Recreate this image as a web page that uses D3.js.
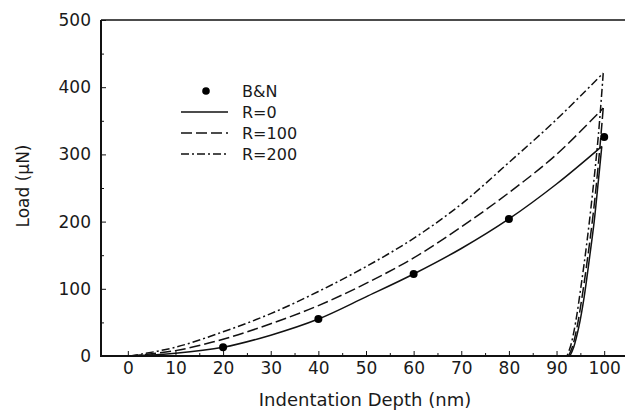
<!DOCTYPE html>
<html>
<head>
<meta charset="utf-8">
<script src="https://cdn.jsdelivr.net/npm/d3@7"></script>
<style>
  body { margin: 0; background: #fff; }
  text { font-family: "DejaVu Sans", sans-serif; fill: #1a1a1a; }
</style>
</head>
<body>
<div id="chart"></div>
<script>
// Load vs indentation depth, B&N points and three R curves

var bnDepth = [20, 40, 60, 80, 100];
var bnLoad = [13, 55, 122, 204, 326];

// loading + unloading branches, [depth, load]
var r0 = [[0.5, 0], [10, 4], [20, 13], [30, 31], [40, 55], [50, 88], [60, 122], [70, 160],
  [80, 204], [90, 256], [99.5, 312],
  [98.8, 262], [97.9, 200], [96.9, 145], [95.8, 88], [94.7, 44], [93.6, 13], [92.8, 0]];
var r100 = [[0.5, 0], [10, 8], [20, 25], [30, 48], [40, 75], [50, 108], [60, 146], [70, 192],
  [80, 243], [90, 300], [99.8, 369],
  [98.9, 295], [97.8, 218], [96.6, 150], [95.4, 90], [94.3, 43], [93.3, 13], [92.5, 0]];
var r200 = [[0.5, 0], [10, 13], [20, 36], [30, 63], [40, 96], [50, 133], [60, 175], [70, 226],
  [80, 288], [90, 352], [99.8, 421],
  [98.8, 330], [97.6, 245], [96.3, 165], [95.1, 102], [94.0, 50], [93.0, 16], [92.2, 0]];

var seriesNames = ["R=0", "R=100", "R=200"];
var xTicks = d3.range(0, 101, 10);
var yTicks = d3.range(0, 501, 100);

var svgWidth = 625, svgHeight = 411;

var x = d3.scaleLinear().domain([-5, 105]).range([104, 628]);
var y = d3.scaleLinear().domain([0, 500]).range([356, 20]);

var svg = d3.select("#chart").append("svg")
  .attr("width", svgWidth)
  .attr("height", svgHeight);

// frame: top line
svg.append("line")
  .attr("x1", 101).attr("x2", svgWidth)
  .attr("y1", y(500)).attr("y2", y(500))
  .attr("stroke", "#111").attr("stroke-width", 1.5);

// x axis (ticks point inwards)
var xAxis = svg.append("g")
  .attr("transform", "translate(0," + y(0) + ")")
  .call(d3.axisBottom(x).tickValues(xTicks).tickSize(-5).tickPadding(7));
svg.append("g")
  .attr("transform", "translate(0," + y(0) + ")")
  .call(d3.axisBottom(x).tickValues(d3.range(5, 101, 10)).tickSize(-3).tickFormat(""))
  .select(".domain").remove();

var yAxis = svg.append("g")
  .attr("transform", "translate(101,0)")
  .call(d3.axisLeft(y).tickValues(yTicks).tickSize(-5).tickPadding(10));
svg.append("g")
  .attr("transform", "translate(101,0)")
  .call(d3.axisLeft(y).tickValues(d3.range(50, 500, 100)).tickSize(-3).tickFormat(""))
  .select(".domain").remove();

svg.selectAll(".domain").attr("stroke", "#111").attr("stroke-width", 2);
svg.selectAll(".tick line").attr("stroke", "#111").attr("stroke-width", 1);
svg.selectAll(".tick text").style("font-size", "17px").attr("fill", "#1a1a1a");
xAxis.selectAll(".tick text").attr("dy", "0.71em").attr("y", 6);
xAxis.select(".domain").attr("d", "M101,0H" + svgWidth);
yAxis.select(".domain").attr("d", "M0," + y(500) + "V" + (y(0) + 1));

// axis titles
svg.append("text")
  .attr("x", 365).attr("y", 406)
  .attr("text-anchor", "middle")
  .style("font-size", "18px")
  .text("Indentation Depth (nm)");

svg.append("text")
  .attr("transform", "translate(29,186) rotate(-90)")
  .attr("text-anchor", "middle")
  .style("font-size", "17px")
  .text("Load (\u03bcN)");

// curves
var loadLine = d3.line()
  .x(function (d) { return x(d[0]); })
  .y(function (d) { return y(d[1]); })
  .curve(d3.curveCatmullRom);

var dashes = ["none", "11,4", "8,3,2,3"];
[r0, r100, r200].forEach(function (s, i) {
  var peak = d3.maxIndex(s, function (d) { return d[0]; });
  var up = s.slice(0, peak + 1);
  var down = s.slice(peak);
  [up, down].forEach(function (part) {
    svg.append("path")
      .datum(part)
      .attr("fill", "none")
      .attr("stroke", "#111")
      .attr("stroke-width", 1.5)
      .attr("stroke-dasharray", dashes[i])
      .attr("d", loadLine);
  });
});

// B&N points
svg.selectAll(".bn")
  .data(bnDepth)
  .enter().append("circle")
  .attr("class", "bn")
  .attr("cx", function (d) { return x(d); })
  .attr("cy", function (d, i) { return y(bnLoad[i]); })
  .attr("r", 4)
  .attr("fill", "#000");

// legend
var legend = svg.append("g").attr("transform", "translate(181,91)");
legend.append("circle").attr("cx", 25).attr("cy", 0).attr("r", 3.8).attr("fill", "#000");
legend.append("text").attr("x", 61).attr("y", 6).style("font-size", "16px").text("B&N");
seriesNames.forEach(function (name, i) {
  var yy = 21 * (i + 1);
  legend.append("line")
    .attr("x1", 0).attr("x2", 47)
    .attr("y1", yy).attr("y2", yy)
    .attr("stroke", "#111").attr("stroke-width", 1.5)
    .attr("stroke-dasharray", dashes[i]);
  legend.append("text")
    .attr("x", 61).attr("y", yy + 6)
    .style("font-size", "16px")
    .text(name);
});
</script>
</body>
</html>
